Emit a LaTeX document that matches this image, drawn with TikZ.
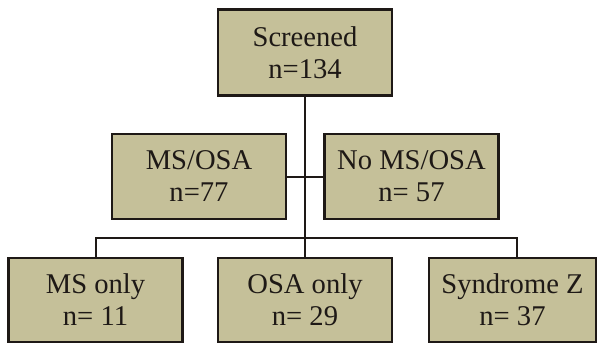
\documentclass[tikz,border=0pt]{standalone}
\usepackage{fontspec}
\setmainfont{Liberation Serif}
\definecolor{boxfill}{RGB}{197,192,153}
\definecolor{ink}{RGB}{30,25,22}
\begin{document}
\begin{tikzpicture}[x=1pt,y=-1pt,
  box/.style={draw=ink, fill=boxfill, line width=2.2pt, minimum width=174pt, minimum height=86pt,
    align=center, inner sep=0pt, text=ink, font=\fontsize{28.6}{32}\selectfont},
  conn/.style={draw=ink, line width=2pt}]
\useasboundingbox (0,0) rectangle (599,345);
\node[box] (top) at (305,52.5) {Screened\\n=134};
\node[box, minimum height=85pt] (ml) at (199,176.5) {MS/OSA\\n=77};
\node[box, minimum height=85pt] (mr) at (411.5,176.5) {No MS/OSA\\n= 57};
\node[box, minimum height=84pt] (b1) at (95.5,300) {MS only\\n= 11};
\node[box, minimum height=84pt] (b2) at (305,300) {OSA only\\n= 29};
\node[box, minimum height=84pt, minimum width=167pt] (b3) at (512.5,300) {Syndrome Z\\n= 37};
\coordinate (bus) at (305,238);
\draw[conn] (top.south) -- (b2.north);
\draw[conn] (ml.east) -- (mr.west);
\draw[conn] (b1.north) |- (bus) -| ([xshift=4pt]b3.north);
\end{tikzpicture}
\end{document}
